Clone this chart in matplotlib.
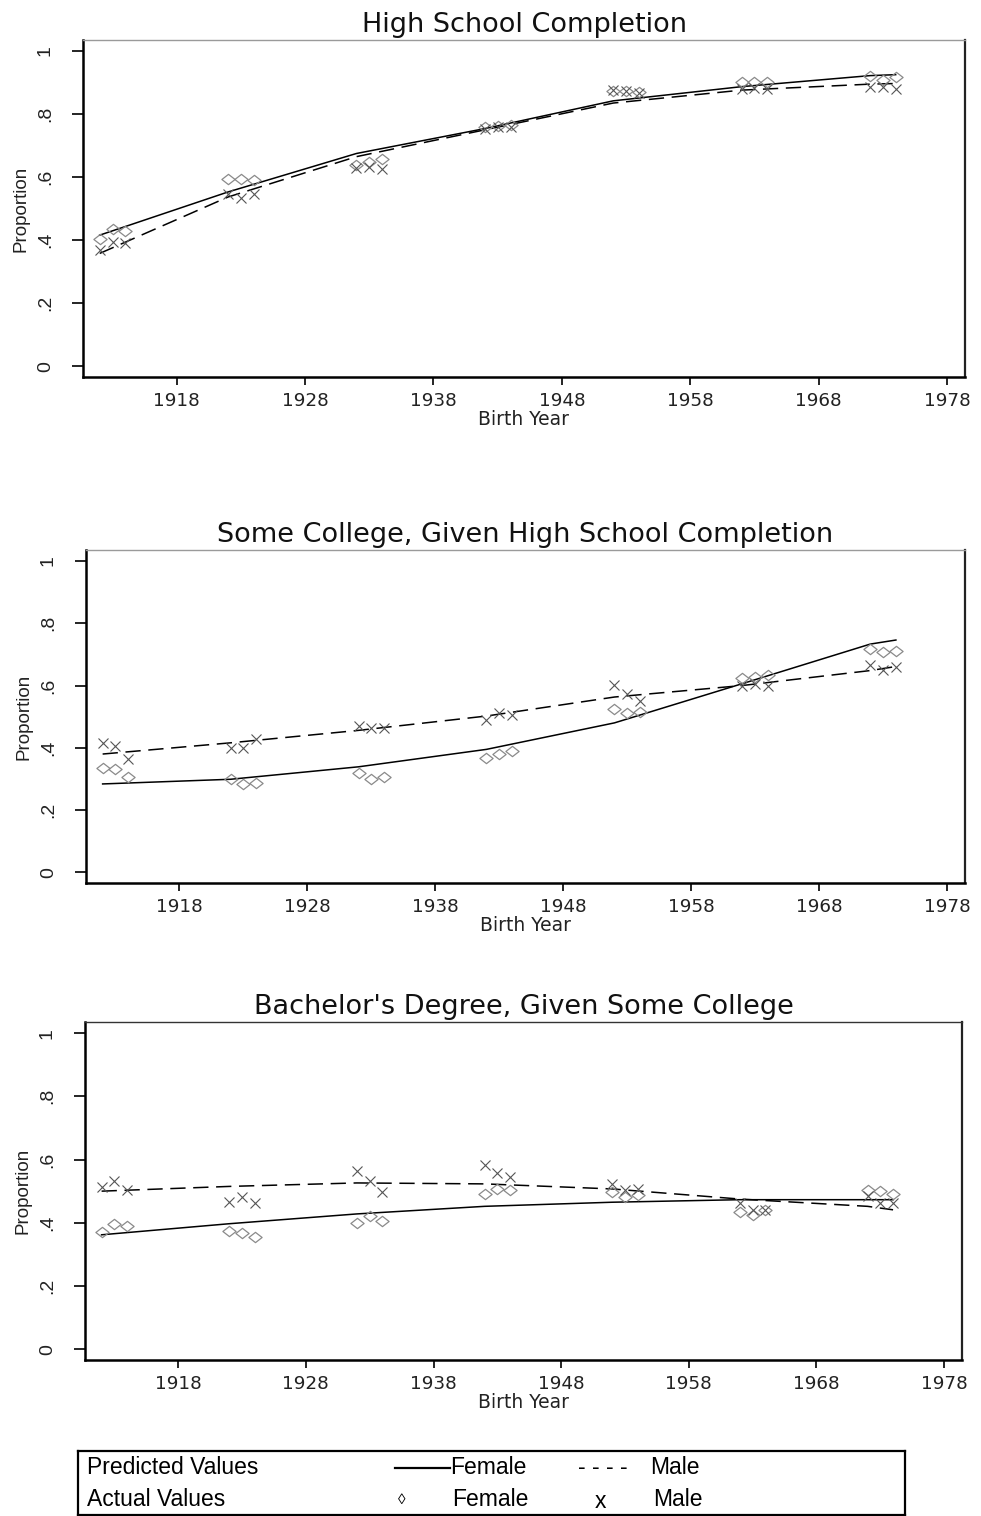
import matplotlib
matplotlib.use("Agg")
import matplotlib.pyplot as plt
from matplotlib.path import Path
import numpy as np

# ---------------- data ----------------
years = [1912, 1913, 1914, 1922, 1923, 1924, 1932, 1933, 1934, 1942, 1943, 1944,
         1952, 1953, 1954, 1962, 1963, 1964, 1972, 1973, 1974]
pred_years = [1912, 1922, 1932, 1942, 1952, 1962, 1972, 1974]

titles = ["High School Completion",
          "Some College, Given High School Completion",
          "Bachelor's Degree, Given Some College"]

hs_female_act = [0.405, 0.434, 0.430, 0.593, 0.593, 0.590, 0.638, 0.648, 0.656,
                 0.758, 0.762, 0.765, 0.874, 0.874, 0.871, 0.903, 0.903, 0.903,
                 0.920, 0.908, 0.918]
hs_male_act = [0.368, 0.395, 0.392, 0.546, 0.535, 0.546, 0.630, 0.633, 0.627,
               0.754, 0.758, 0.758, 0.876, 0.874, 0.868, 0.881, 0.883, 0.881,
               0.887, 0.887, 0.878]
hs_female_pred = [0.416, 0.553, 0.675, 0.754, 0.842, 0.887, 0.922, 0.925]
hs_male_pred = [0.358, 0.537, 0.665, 0.750, 0.835, 0.876, 0.895, 0.897]

sc_female_act = [0.336, 0.332, 0.307, 0.300, 0.283, 0.287, 0.320, 0.299, 0.307,
                 0.368, 0.379, 0.389, 0.523, 0.513, 0.516, 0.624, 0.627, 0.634,
                 0.718, 0.709, 0.712]
sc_male_act = [0.416, 0.405, 0.363, 0.400, 0.400, 0.427, 0.470, 0.465, 0.465,
               0.488, 0.512, 0.506, 0.602, 0.574, 0.550, 0.600, 0.606, 0.597,
               0.666, 0.651, 0.659]
sc_female_pred = [0.284, 0.299, 0.339, 0.395, 0.480, 0.606, 0.733, 0.746]
sc_male_pred = [0.380, 0.416, 0.456, 0.502, 0.563, 0.600, 0.648, 0.661]

ba_female_act = [0.371, 0.396, 0.391, 0.375, 0.368, 0.354, 0.399, 0.423, 0.407,
                 0.492, 0.508, 0.503, 0.496, 0.482, 0.489, 0.433, 0.426, 0.441,
                 0.505, 0.499, 0.492]
ba_male_act = [0.513, 0.533, 0.503, 0.465, 0.482, 0.463, 0.565, 0.531, 0.497,
               0.584, 0.558, 0.544, 0.524, 0.505, 0.507, 0.463, 0.439, 0.441,
               0.484, 0.463, 0.463]
ba_female_pred = [0.362, 0.397, 0.428, 0.452, 0.465, 0.473, 0.473, 0.473]
ba_male_pred = [0.500, 0.515, 0.526, 0.523, 0.507, 0.475, 0.452, 0.441]

panels = [
    (titles[0], hs_female_act, hs_male_act, hs_female_pred, hs_male_pred),
    (titles[1], sc_female_act, sc_male_act, sc_female_pred, sc_male_pred),
    (titles[2], ba_female_act, ba_male_act, ba_female_pred, ba_male_pred),
]

xticks = [1918, 1928, 1938, 1948, 1958, 1968, 1978]
yticks = [0, 0.2, 0.4, 0.6, 0.8, 1.0]
ytick_labels = ["0", ".2", ".4", ".6", ".8", "1"]

# ---------------- layout ----------------
W, H = 981, 1516
fig = plt.figure(figsize=(W / 100, H / 100), dpi=100)

# (left, top, right, bottom) in pixels
rects = [(83, 40, 965, 377), (86, 550, 965, 883), (85, 1022, 962, 1360)]
top_spine_col = ["#9a9a9a", "#9a9a9a", "#333333"]

# wide diamond marker
diamond = Path([(-1.0, 0.0), (0.0, 0.78), (1.0, 0.0), (0.0, -0.78), (-1.0, 0.0)],
               [Path.MOVETO, Path.LINETO, Path.LINETO, Path.LINETO, Path.CLOSEPOLY])

for i, (title, f_act, m_act, f_pred, m_pred) in enumerate(panels):
    l, t, r, b = rects[i]
    ax = fig.add_axes([l / W, 1 - b / H, (r - l) / W, (b - t) / H])
    ax.plot(pred_years, f_pred, color="black", lw=1.1, solid_joinstyle="round")
    ax.plot(pred_years, m_pred, color="black", lw=1.1, ls=(0, (10, 5)))
    ax.plot(years, f_act, ls="none", marker=diamond, markersize=9.5,
            markerfacecolor="none", markeredgecolor="#8a8a8a", markeredgewidth=0.9)
    ax.plot(years, m_act, ls="none", marker="x", markersize=7.5,
            markeredgecolor="#555555", markeredgewidth=0.8)

    ax.set_xlim(1910.7, 1979.4)
    ax.set_ylim(-0.034, 1.035)
    ax.set_xticks(xticks)
    ax.set_xticklabels([str(x) for x in xticks], family="DejaVu Sans",
                       fontsize=13.2, color="#222222")
    ax.set_yticks(yticks)
    ax.set_yticklabels(ytick_labels, rotation=90, va="center",
                       family="Liberation Sans", fontsize=14, color="#222222")
    ax.tick_params(axis="x", direction="out", length=6, width=1.2, pad=5)
    ax.tick_params(axis="y", direction="out", length=8, width=1.2, pad=13)

    for side in ["left", "bottom"]:
        ax.spines[side].set_linewidth(1.8)
        ax.spines[side].set_color("black")
    ax.spines["right"].set_linewidth(1.6)
    ax.spines["right"].set_color("#222222")
    ax.spines["top"].set_linewidth(1.0)
    ax.spines["top"].set_color(top_spine_col[i])

    ax.set_title(title, family="DejaVu Sans", fontsize=19.5, pad=6, color="#111111")
    ax.set_xlabel("Birth Year", family="DejaVu Sans", fontsize=13.5,
                  labelpad=0, color="#222222")
    ax.set_ylabel("Proportion", family="Liberation Sans", fontsize=13.5,
                  color="#222222")
    ax.yaxis.set_label_coords(-0.061, 0.5)

# ---------------- legend box ----------------
lx0, ly0, lx1, ly1 = 78, 1451, 905, 1515
lax = fig.add_axes([lx0 / W, 1 - ly1 / H, (lx1 - lx0) / W, (ly1 - ly0) / H])
lax.set_xlim(0, lx1 - lx0)
lax.set_ylim(ly1 - ly0, 0)
lax.set_xticks([])
lax.set_yticks([])
for s in lax.spines.values():
    s.set_linewidth(1.6)
    s.set_color("black")

fam = ["Liberation Sans", "DejaVu Sans"]
fs = 16.5
r1, r2 = 16, 48
lax.text(9, r1, "Predicted Values", family=fam, fontsize=fs, va="center", ha="left")
lax.text(9, r2, "Actual Values", family=fam, fontsize=fs, va="center", ha="left")
lax.plot([317, 372], [r1 + 1, r1 + 1], color="black", lw=1.6)
lax.text(372, r1, "Female", family=fam, fontsize=fs, va="center", ha="left")
lax.text(500, r1, "- - - -", family=fam, fontsize=fs, va="center", ha="left")
lax.text(572, r1, "Male", family=fam, fontsize=fs, va="center", ha="left")
lax.text(324, r2 + 1, "\u25ca", family=fam, fontsize=11, va="center", ha="center")
lax.text(374, r2, "Female", family=fam, fontsize=fs, va="center", ha="left")
lax.text(522, r2 + 2, "x", family=fam, fontsize=fs, va="center", ha="center")
lax.text(575, r2, "Male", family=fam, fontsize=fs, va="center", ha="left")

fig.savefig("out.png", dpi=100)
